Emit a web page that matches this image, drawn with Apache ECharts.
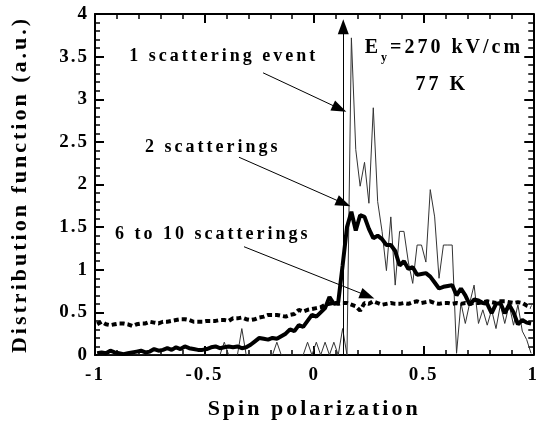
<!DOCTYPE html>
<html>
<head>
<meta charset="utf-8">
<script src="https://cdn.jsdelivr.net/npm/echarts@6/dist/echarts.min.js"></script>
<style>
  html, body { margin: 0; padding: 0; background: #fff; }
  #chart { width: 542px; height: 427px; }
</style>
</head>
<body>
<div id="chart"></div>
<script>
// the figure's lettering is widely spaced: add letter spacing to canvas text
// (tick labels, set at 19px, are a little tighter)
(function () {
  var P = CanvasRenderingContext2D.prototype;
  var fill = P.fillText, stroke = P.strokeText, measure = P.measureText;
  function spacing(ctx) { ctx.letterSpacing = /\b19px/.test(ctx.font) ? '2px' : '3px'; }
  P.fillText = function () { spacing(this); return fill.apply(this, arguments); };
  P.strokeText = function () { spacing(this); return stroke.apply(this, arguments); };
  P.measureText = function () { spacing(this); return measure.apply(this, arguments); };
})();

// bin centres of spin polarization
var binCenters = [
  -0.99, -0.97, -0.95, -0.93, -0.91, -0.89, -0.87, -0.85, -0.83, -0.81,
  -0.79, -0.77, -0.75, -0.73, -0.71, -0.69, -0.67, -0.65, -0.63, -0.61,
  -0.59, -0.57, -0.55, -0.53, -0.51, -0.49, -0.47, -0.45, -0.43, -0.41,
  -0.39, -0.37, -0.35, -0.33, -0.31, -0.29, -0.27, -0.25, -0.23, -0.21,
  -0.19, -0.17, -0.15, -0.13, -0.11, -0.09, -0.07, -0.05, -0.03, -0.01,
  0.01, 0.03, 0.05, 0.07, 0.09, 0.11, 0.13, 0.15, 0.17, 0.19,
  0.21, 0.23, 0.25, 0.27, 0.29, 0.31, 0.33, 0.35, 0.37, 0.39,
  0.41, 0.43, 0.45, 0.47, 0.49, 0.51, 0.53, 0.55, 0.57, 0.59,
  0.61, 0.63, 0.65, 0.67, 0.69, 0.71, 0.73, 0.75, 0.77, 0.79,
  0.81, 0.83, 0.85, 0.87, 0.89, 0.91, 0.93, 0.95, 0.97, 0.99
];
// 1 scattering event (thin line)
var oneScatter = [
  0, 0, 0, 0, 0, 0, 0, 0, 0, 0,
  0, 0, 0, 0, 0, 0, 0, 0, 0, 0,
  0, 0, 0, 0, 0, 0, 0, 0, 0, 0.15,
  0, 0, 0, 0.31, 0, 0, 0, 0, 0, 0,
  0, 0.15, 0, 0, 0, 0, 0, 0, 0.15, 0,
  0.15, 0, 0.15, 0, 0.15, 0, 0.31, 0, 3.72, 2.41,
  1.98, 2.26, 1.78, 2.90, 1.80, 1.45, 0.99, 1.62, 0.82, 1.45,
  1.45, 1.09, 0.84, 1.29, 1.29, 1.09, 1.94, 1.62, 0.90, 1.29,
  1.29, 1.29, 0.02, 0.61, 0.37, 0.61, 0.82, 0.37, 0.53, 0.35,
  0.53, 0.31, 0.59, 0.37, 0.59, 0.35, 0.59, 0.28, 0.18, 0.02
];
// 2 scatterings (thick line)
var twoScatter = [
  0.02, 0.03, 0.02, 0.05, 0.03, 0.02, 0.01, 0.02, 0.03, 0.04,
  0.05, 0.03, 0.04, 0.07, 0.05, 0.06, 0.08, 0.06, 0.09, 0.07,
  0.10, 0.08, 0.07, 0.06, 0.06, 0.07, 0.09, 0.10, 0.08, 0.09,
  0.10, 0.09, 0.10, 0.08, 0.09, 0.12, 0.16, 0.20, 0.19, 0.18,
  0.20, 0.19, 0.22, 0.25, 0.30, 0.28, 0.35, 0.33, 0.40, 0.47,
  0.45, 0.50, 0.55, 0.68, 0.60, 0.62, 1.05, 1.50, 1.68, 1.46,
  1.64, 1.62, 1.48, 1.37, 1.40, 1.36, 1.29, 1.29, 1.22, 1.05,
  1.10, 1.01, 1.03, 0.94, 0.95, 0.96, 0.92, 0.85, 0.78, 0.80,
  0.81, 0.82, 0.70, 0.78, 0.70, 0.59, 0.65, 0.64, 0.61, 0.60,
  0.49, 0.60, 0.61, 0.49, 0.59, 0.50, 0.36, 0.41, 0.38, 0.37
];
// 6 to 10 scatterings (dotted line)
var sixToTen = [
  0.36, 0.39, 0.36, 0.35, 0.36, 0.37, 0.37, 0.36, 0.34, 0.36,
  0.37, 0.37, 0.39, 0.38, 0.37, 0.39, 0.39, 0.40, 0.41, 0.42,
  0.42, 0.41, 0.39, 0.39, 0.39, 0.40, 0.40, 0.40, 0.41, 0.41,
  0.40, 0.43, 0.43, 0.44, 0.42, 0.41, 0.42, 0.44, 0.45, 0.47,
  0.47, 0.47, 0.46, 0.45, 0.47, 0.48, 0.53, 0.51, 0.53, 0.54,
  0.55, 0.56, 0.59, 0.60, 0.61, 0.60, 0.61, 0.61, 0.59, 0.57,
  0.52, 0.61, 0.60, 0.63, 0.61, 0.59, 0.60, 0.61, 0.60, 0.60,
  0.61, 0.60, 0.62, 0.63, 0.61, 0.62, 0.63, 0.61, 0.60, 0.61,
  0.61, 0.60, 0.61, 0.60, 0.61, 0.60, 0.61, 0.61, 0.62, 0.63,
  0.62, 0.61, 0.63, 0.63, 0.62, 0.61, 0.62, 0.61, 0.58, 0.56
];

// annotations, in data coordinates
var noteLabels = ['1 scattering event', '2 scatterings', '6 to 10 scatterings', 'E_y=270 kV/cm', '77 K'];
var notePos = [[-0.412, 3.50], [-0.463, 2.44], [-0.463, 1.41], [0.592, 3.60], [0.583, 3.17]];
var arrows = [
  [[0.133, 0], [0.133, 3.85]],
  [[-0.233, 3.31], [0.116, 2.89]],
  [[-0.343, 2.32], [0.134, 1.78]],
  [[-0.32, 1.27], [0.243, 0.694]]
];

var FONT = 'Liberation Serif';

function pairs(xs, ys) {
  var out = [];
  for (var i = 0; i < xs.length; i++) out.push([xs[i], ys[i]]);
  return out;
}

function axisCommon(extra) {
  var a = {
    type: 'value',
    axisLine: { show: true, onZero: false, lineStyle: { color: '#000', width: 2 } },
    axisTick: { show: true, inside: true, length: 9, lineStyle: { color: '#000', width: 2 } },
    minorTick: { show: true, splitNumber: 5, length: 5, lineStyle: { color: '#000', width: 1.5 } },
    splitLine: { show: false },
    axisLabel: { color: '#000', fontFamily: FONT, fontWeight: 'bold', fontSize: 19 }
  };
  for (var k in extra) a[k] = extra[k];
  return a;
}

var chart = echarts.init(document.getElementById('chart'));

var markPointData = noteLabels.map(function (t, i) {
  return { coord: notePos[i], value: t };
});

chart.setOption({
  animation: false,
  backgroundColor: '#fff',
  grid: { left: 90, right: 1, top: 14, bottom: 70 },
  xAxis: [
    axisCommon({
      min: -1, max: 1, interval: 0.5, position: 'bottom',
      name: 'Spin polarization', nameLocation: 'middle', nameGap: 42,
      nameTextStyle: { color: '#000', fontFamily: FONT, fontWeight: 'bold', fontSize: 22 },
      axisLabel: { color: '#000', fontFamily: FONT, fontWeight: 'bold', fontSize: 19, margin: 10 }
    }),
    axisCommon({
      min: -1, max: 1, interval: 0.5, position: 'top',
      axisLabel: { show: false }
    })
  ],
  yAxis: [
    axisCommon({
      min: 0, max: 4, interval: 0.5, position: 'left',
      name: 'Distribution function (a.u.)', nameLocation: 'middle', nameGap: 62,
      nameTextStyle: { color: '#000', fontFamily: FONT, fontWeight: 'bold', fontSize: 22 },
      axisLabel: { color: '#000', fontFamily: FONT, fontWeight: 'bold', fontSize: 19, margin: 6 }
    }),
    axisCommon({
      min: 0, max: 4, interval: 0.5, position: 'right',
      axisLabel: { show: false }
    })
  ],
  series: [
    {
      name: '1 scattering event',
      type: 'line',
      data: pairs(binCenters, oneScatter),
      showSymbol: false,
      lineStyle: { color: '#333', width: 1 },
      z: 2,
      markLine: {
        silent: true,
        symbol: ['none', 'triangle'],
        symbolSize: [11, 15],
        label: { show: false },
        lineStyle: { color: '#000', width: 1, type: 'solid' },
        data: arrows.map(function (a) {
          return [{ coord: a[0] }, { coord: a[1] }];
        })
      }
    },
    {
      name: '2 scatterings',
      type: 'line',
      data: pairs(binCenters, twoScatter),
      showSymbol: false,
      lineStyle: { color: '#000', width: 4 },
      z: 3
    },
    {
      name: '6 to 10 scatterings',
      type: 'line',
      data: pairs(binCenters, sixToTen),
      showSymbol: false,
      lineStyle: { color: '#000', width: 4, type: [5, 3] },
      z: 4,
      markPoint: {
        silent: true,
        symbol: 'rect',
        symbolSize: 1,
        itemStyle: { color: 'rgba(0,0,0,0)' },
        data: markPointData,
        label: {
          show: true,
          position: 'inside',
          color: '#000',
          fontFamily: FONT,
          fontWeight: 'bold',
          fontSize: 18,
          formatter: function (p) {
            if (p.value.indexOf('E_y') === 0) return '{m|E}{s|y}{m|' + p.value.slice(3) + '}';
            if (p.value === '77 K') return '{m|77 K}';
            return p.value;
          },
          rich: {
            m: { color: '#000', fontFamily: FONT, fontWeight: 'bold', fontSize: 20, lineHeight: 22 },
            s: { color: '#000', fontFamily: FONT, fontWeight: 'bold', fontSize: 12, lineHeight: 34, verticalAlign: 'bottom' }
          }
        }
      }
    }
  ]
});
</script>
</body>
</html>
